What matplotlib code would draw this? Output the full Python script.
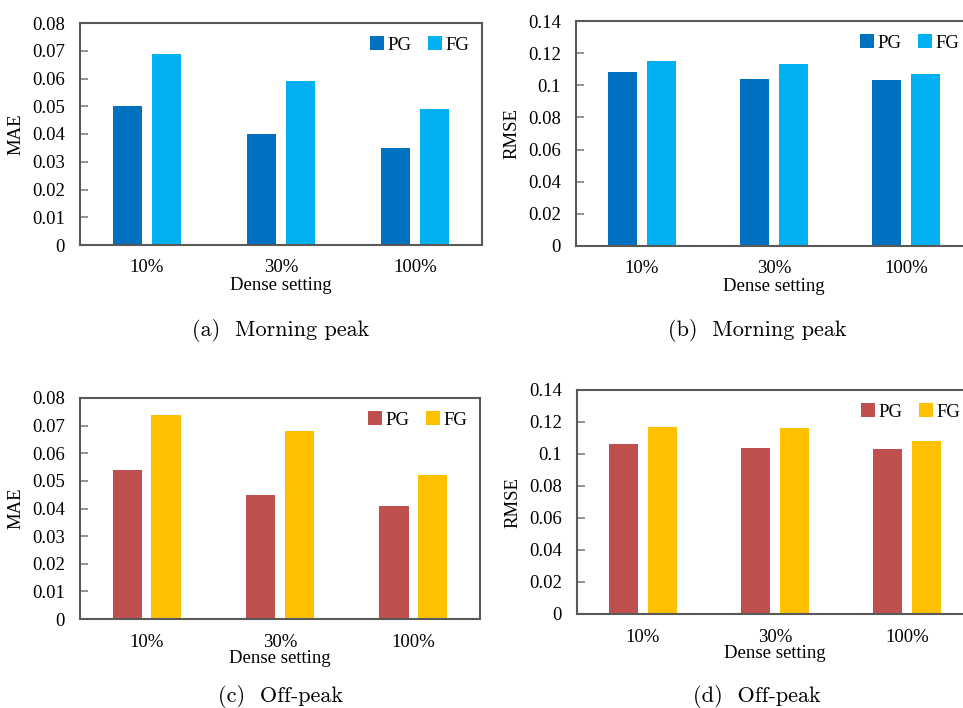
import matplotlib
matplotlib.use("Agg")
import matplotlib.pyplot as plt
import numpy as np

# data
dense = ["10%", "30%", "100%"]
series = ["PG", "FG"]

mae_morning_pg = [0.050, 0.040, 0.035]
mae_morning_fg = [0.069, 0.059, 0.049]
rmse_morning_pg = [0.108, 0.104, 0.103]
rmse_morning_fg = [0.115, 0.113, 0.107]

mae_off_pg = [0.054, 0.045, 0.041]
mae_off_fg = [0.074, 0.068, 0.052]
rmse_off_pg = [0.106, 0.104, 0.103]
rmse_off_fg = [0.117, 0.116, 0.108]

blue_pg, blue_fg = "#0070C0", "#00B0F0"
red_pg, yel_fg = "#C0504D", "#FFC000"

plt.rcParams['font.family'] = ['Liberation Serif', 'DejaVu Serif']

W, H = 963, 708
fig = plt.figure(figsize=(W / 100, H / 100), dpi=100)


def rect(left, top, right, bottom):
    # pixel box -> figure fraction
    return [left / W, 1 - bottom / H, (right - left) / W, (bottom - top) / H]


def panel(box, pg, fg, cols, ylab, ymax, caption, cap_y, xlab_pad, tick_pad):
    ax = fig.add_axes(rect(*box))
    x = np.arange(len(dense))
    w = 0.22
    ax.bar(x - 0.145, pg, w, color=cols[0], label=series[0], zorder=2)
    ax.bar(x + 0.145, fg, w, color=cols[1], label=series[1], zorder=2)
    ax.set_xlim(-0.5, len(dense) - 0.5)
    ax.set_ylim(0, ymax)
    step = 0.01 if ymax < 0.1 else 0.02
    yt = np.round(np.arange(0, ymax + step / 2, step), 2)
    ax.set_yticks(yt)
    if step == 0.02:
        labs = ["%g" % v for v in yt]
    else:
        labs = ["0" if v == 0 else "%.2f" % v for v in yt]
    ax.set_yticklabels(labs)
    ax.set_xticks(x)
    ax.set_xticklabels(dense)
    ax.tick_params(axis='y', direction='in', length=6, width=1.2, color="#7f7f7f",
                   labelsize=13.5, pad=11)
    ax.tick_params(axis='x', length=0, labelsize=13.5, pad=tick_pad)
    for s in ax.spines.values():
        s.set_color("#595959")
        s.set_linewidth(1.5)
    ax.set_ylabel(ylab, fontsize=13.5, labelpad=5)
    ax.set_xlabel("Dense setting", fontsize=13.5, labelpad=xlab_pad)
    ax.legend(loc="upper right", ncol=2, frameon=False, fontsize=13.5,
              handlelength=0.75, handleheight=0.75, handletextpad=0.15,
              columnspacing=0.9, borderaxespad=0.3, bbox_to_anchor=(1.0, 1.0))
    cx = (box[0] + box[2]) / 2 if box[2] < W else 757
    fig.text(cx / W, 1 - cap_y / H, caption, ha="center", va="center",
             fontsize=16, family="cmr10")
    return ax


panel((80, 23, 482, 245), mae_morning_pg, mae_morning_fg, (blue_pg, blue_fg),
      "MAE", 0.08, "(a)  Morning peak", 330, 1, 10)
panel((576, 21, 972, 246), rmse_morning_pg, rmse_morning_fg, (blue_pg, blue_fg),
      "RMSE", 0.14, "(b)  Morning peak", 330, 1, 10)
panel((80, 398, 480, 619), mae_off_pg, mae_off_fg, (red_pg, yel_fg),
      "MAE", 0.08, "(c)  Off-peak", 697, -1, 11)
panel((577, 390, 973, 614), rmse_off_pg, rmse_off_fg, (red_pg, yel_fg),
      "RMSE", 0.14, "(d)  Off-peak", 697, -1, 11)

fig.savefig("out.png", dpi=100)
